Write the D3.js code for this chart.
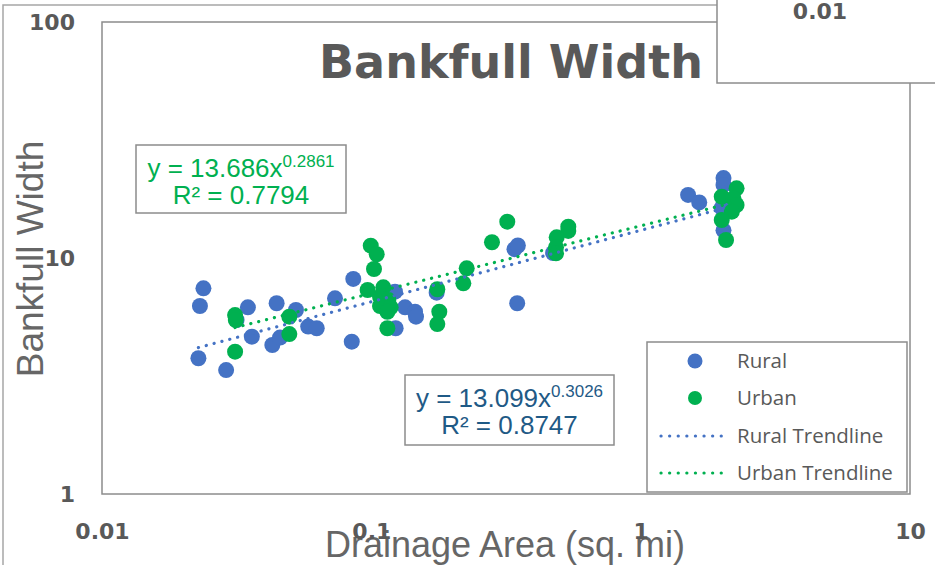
<!DOCTYPE html>
<html>
<head>
<meta charset="utf-8">
<script src="https://cdn.jsdelivr.net/npm/d3@7"></script>
<style>
  body { margin: 0; background: #fff; }
  svg { display: block; }
</style>
</head>
<body>
<div id="chart"></div>
<script>
// drainage area (sq. mi) and bankfull width
const ruralArea  = [0.0238, 0.0231, 0.0228, 0.0289, 0.0348, 0.0360, 0.0316, 0.0445, 0.0429, 0.0458,
                    0.0525, 0.0583, 0.0627, 0.0733, 0.0857, 0.0846, 0.1224, 0.1334, 0.1453, 0.1465,
                    0.1231, 0.1748, 0.340, 0.350, 0.348, 0.473, 1.50, 1.65, 2.03, 2.03, 2.03, 2.00];
const ruralWidth = [7.44, 6.26, 3.76, 3.35, 6.18, 4.64, 5.46, 6.43, 4.28, 4.60,
                    6.02, 5.12, 5.04, 6.75, 8.15, 4.42, 7.20, 6.18, 5.92, 5.64,
                    5.04, 7.13, 10.9, 11.3, 6.43, 10.5, 18.5, 17.2, 21.8, 20.4, 13.1, 16.3];

const urbanArea  = [0.0312, 0.0314, 0.0312, 0.0496, 0.0496, 0.0995, 0.1047, 0.1023, 0.0969, 0.1108,
                    0.1077, 0.1156, 0.1077, 0.1180, 0.1147, 0.1147, 0.1758, 0.1788, 0.1758, 0.2260,
                    0.2196, 0.2805, 0.3197, 0.5386, 0.5386, 0.4878, 0.485, 0.485, 2.27, 2.00,
                    2.21, 2.27, 2.18, 2.00, 2.075];
const urbanWidth = [5.73, 5.46, 4.01, 5.64, 4.76, 11.28, 10.37, 8.98, 7.32, 7.51,
                    6.86, 6.64, 6.26, 6.18, 5.92, 5.04, 7.37, 5.92, 5.25, 9.04,
                    7.81, 11.66, 14.25, 13.57, 13.02, 12.24, 11.10, 10.47, 19.74, 18.19,
                    17.9, 16.77, 15.71, 14.49, 11.92];

// power-law trendlines y = a * x^b
const ruralFit = { a: 13.099, b: 0.3026, r2: "0.8747" };
const urbanFit = { a: 13.686, b: 0.2861, r2: "0.7794" };

const xTicks = [0.01, 0.1, 1, 10];
const xTickLabels = ["0.01", "0.1", "1", "10"];
const yTicks = [1, 10, 100];
const yTickLabels = ["1", "10", "100"];

const legendLabels = ["Rural", "Urban", "Rural Trendline", "Urban Trendline"];

const blue = "#4472c4";
const green = "#00b050";
const eqBlue = "#1f5a86";
const gray = "#595959";
const frame = "#8c8c8c";

const width = 935;
const height = 565;

const svg = d3.select("#chart").append("svg")
    .attr("width", width)
    .attr("height", height);

const x = d3.scaleLog().domain([0.01, 10]).range([102, 910]);
const y = d3.scaleLog().domain([1, 100]).range([494, 22]);

// outer chart frame
svg.append("rect")
    .attr("x", 3).attr("y", 5)
    .attr("width", 1000).attr("height", 1000)
    .attr("fill", "none")
    .attr("stroke", "#a6a6a6")
    .attr("stroke-width", 1.5);

// plot area
svg.append("rect")
    .attr("x", x(0.01)).attr("y", y(100))
    .attr("width", x(10) - x(0.01)).attr("height", y(1) - y(100))
    .attr("fill", "none")
    .attr("stroke", frame)
    .attr("stroke-width", 1.5);

// axis titles
svg.append("text")
    .attr("x", 505).attr("y", 557)
    .attr("text-anchor", "middle")
    .attr("fill", "#666")
    .style("font-family", "Liberation Sans, Arial")
    .style("font-size", "36px")
    .text("Drainage Area (sq. mi)");

svg.append("text")
    .attr("transform", "translate(43,259) rotate(-90)")
    .attr("text-anchor", "middle")
    .attr("fill", "#666")
    .style("font-family", "Liberation Sans, Arial")
    .style("font-size", "37px")
    .text("Bankfull Width");

// axes (labels only)
const xAxis = svg.append("g")
    .attr("transform", `translate(0,${y(1)})`)
    .call(d3.axisBottom(x).tickValues(xTicks).tickSize(0).tickPadding(29)
        .tickFormat((d, i) => xTickLabels[i]));
const yAxis = svg.append("g")
    .attr("transform", `translate(${x(0.01)},0)`)
    .call(d3.axisLeft(y).tickValues(yTicks).tickSize(0).tickPadding(27)
        .tickFormat((d, i) => yTickLabels[i]));
[xAxis, yAxis].forEach(g => {
    g.select(".domain").remove();
    g.selectAll("text")
        .attr("fill", gray)
        .style("font-family", "DejaVu Sans")
        .style("font-weight", "bold")
        .style("font-size", "22px");
});

// title
svg.append("text")
    .attr("x", 511).attr("y", 78)
    .attr("text-anchor", "middle")
    .attr("fill", gray)
    .style("font-family", "DejaVu Sans")
    .style("font-weight", "bold")
    .style("font-size", "46px")
    .text("Bankfull Width");

// points
const rural = ruralArea.map((a, i) => ({ a, w: ruralWidth[i] }));
const urban = urbanArea.map((a, i) => ({ a, w: urbanWidth[i] }));

svg.append("g").selectAll("circle")
    .data(rural)
    .enter().append("circle")
    .attr("cx", d => x(d.a))
    .attr("cy", d => y(d.w))
    .attr("r", 8)
    .attr("fill", blue);

svg.append("g").selectAll("circle")
    .data(urban)
    .enter().append("circle")
    .attr("cx", d => x(d.a))
    .attr("cy", d => y(d.w))
    .attr("r", 8)
    .attr("fill", green);

// trendlines
function trend(fit, xs, color) {
    const lo = d3.min(xs), hi = d3.max(xs);
    const pts = d3.range(0, 41).map(k => {
        const xv = lo * Math.pow(hi / lo, k / 40);
        return [x(xv), y(fit.a * Math.pow(xv, fit.b))];
    });
    svg.append("path")
        .attr("d", d3.line()(pts))
        .attr("fill", "none")
        .attr("stroke", color)
        .attr("stroke-width", 3.2)
        .attr("stroke-linecap", "round")
        .attr("stroke-dasharray", "0.1 8");
}
trend(ruralFit, ruralArea, blue);
trend(urbanFit, urbanArea, green);

// equation boxes
function eqBox(bx, by, bw, bh, fit, color) {
    const g = svg.append("g");
    g.append("rect")
        .attr("x", bx).attr("y", by)
        .attr("width", bw).attr("height", bh)
        .attr("fill", "#fff")
        .attr("stroke", frame)
        .attr("stroke-width", 1.5);
    const t = g.append("text")
        .attr("x", bx + bw / 2).attr("y", by + 32)
        .attr("text-anchor", "middle")
        .attr("fill", color)
        .style("font-family", "Liberation Sans, Arial")
        .style("font-size", "26px");
    t.append("tspan").text(`y = ${fit.a.toFixed(3)}x`);
    t.append("tspan").attr("dy", -10).style("font-size", "17px").text(fit.b.toFixed(4));
    g.append("text")
        .attr("x", bx + bw / 2).attr("y", by + 59)
        .attr("text-anchor", "middle")
        .attr("fill", color)
        .style("font-family", "Liberation Sans, Arial")
        .style("font-size", "26px")
        .text(`R² = ${fit.r2}`);
}
eqBox(136, 145, 210, 68, urbanFit, green);
eqBox(405, 375, 209, 70, ruralFit, eqBlue);

// legend
const lg = svg.append("g");
lg.append("rect")
    .attr("x", 647).attr("y", 342)
    .attr("width", 260).attr("height", 150)
    .attr("fill", "#fff")
    .attr("stroke", frame)
    .attr("stroke-width", 1.5);
const rowY = [361, 398, 436, 473];
lg.append("circle").attr("cx", 695).attr("cy", rowY[0]).attr("r", 7.5).attr("fill", blue);
lg.append("circle").attr("cx", 695).attr("cy", rowY[1]).attr("r", 7).attr("fill", green);
[blue, green].forEach((c, i) => {
    lg.append("line")
        .attr("x1", 661).attr("x2", 729)
        .attr("y1", rowY[i + 2]).attr("y2", rowY[i + 2])
        .attr("stroke", c)
        .attr("stroke-width", 3.2)
        .attr("stroke-linecap", "round")
        .attr("stroke-dasharray", "0.1 8.5");
});
lg.selectAll("text.leg")
    .data(legendLabels)
    .enter().append("text")
    .attr("class", "leg")
    .attr("x", 737)
    .attr("y", (d, i) => rowY[i] + 7)
    .attr("fill", gray)
    .style("font-family", "Open Sans")
    .style("font-size", "20.5px")
    .text(d => d);

// stray label box in the top right corner
svg.append("rect")
    .attr("x", 717).attr("y", -2)
    .attr("width", 230).attr("height", 85)
    .attr("fill", "#fff")
    .attr("stroke", frame)
    .attr("stroke-width", 1.5);
svg.append("text")
    .attr("x", 820).attr("y", 19)
    .attr("text-anchor", "middle")
    .attr("fill", gray)
    .style("font-family", "DejaVu Sans")
    .style("font-weight", "bold")
    .style("font-size", "22px")
    .text(xTickLabels[0]);
</script>
</body>
</html>
